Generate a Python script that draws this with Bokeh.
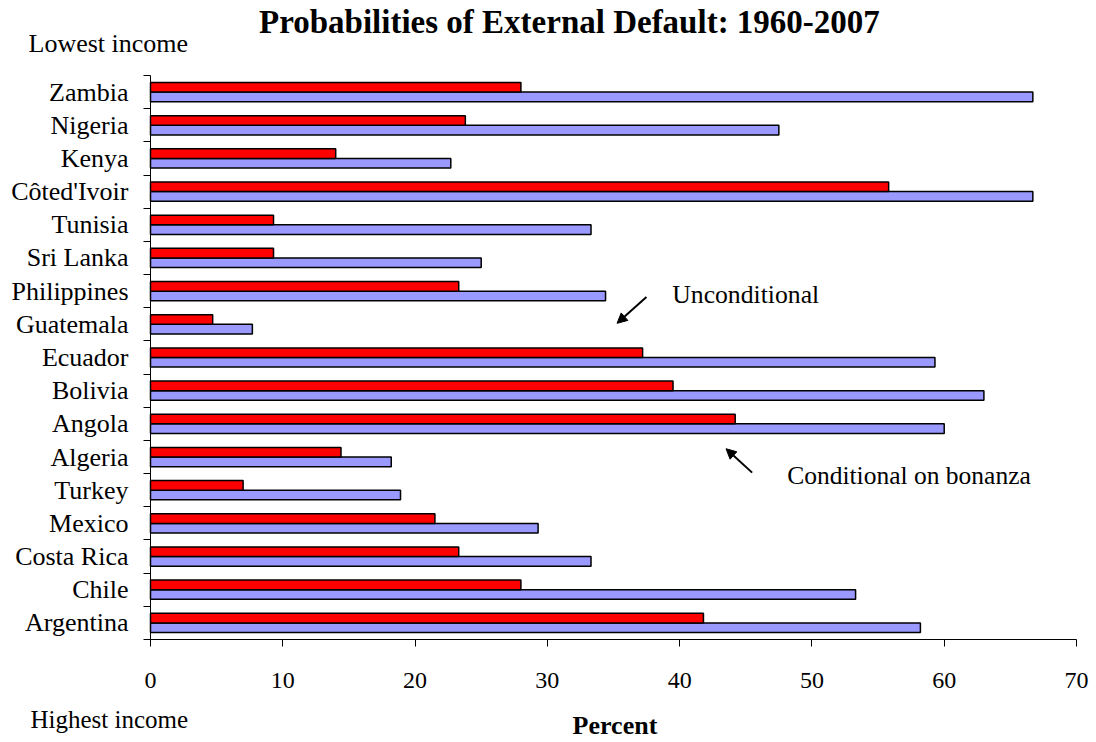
from bokeh.plotting import figure
from bokeh.models import (ColumnDataSource, Range1d, FixedTicker, Label, Arrow, NormalHead)
from bokeh.embed import file_html
from bokeh.resources import INLINE

# ---- data (top to bottom as shown) ----
countries = ["Zambia", "Nigeria", "Kenya", "Côted'Ivoir", "Tunisia", "Sri Lanka",
             "Philippines", "Guatemala", "Ecuador", "Bolivia", "Angola", "Algeria",
             "Turkey", "Mexico", "Costa Rica", "Chile", "Argentina"]
conditional = [28.0, 23.8, 14.0, 55.8, 9.3, 9.3, 23.3, 4.7, 37.2, 39.5, 44.2, 14.4,
               7.0, 21.5, 23.3, 28.0, 41.8]
unconditional = [66.7, 47.5, 22.7, 66.7, 33.3, 25.0, 34.4, 7.7, 59.3, 63.0, 60.0, 18.2,
                 18.9, 29.3, 33.3, 53.3, 58.2]
x_ticks = [0, 10, 20, 30, 40, 50, 60, 70]

FONT = "Liberation Serif"
RED = "#FF0000"
BLUE = "#9999FF"

n = len(countries)
centers = [n - i - 0.5 for i in range(n)]
off = 0.145
bh = 0.29

src = ColumnDataSource(dict(
    country=countries,
    cond=conditional,
    uncond=unconditional,
    y_cond=[c + off for c in centers],
    y_uncond=[c - off for c in centers],
))

# frame covers the whole canvas; axes are pinned at x=0 / y=0
p = figure(width=1096, height=742, output_backend="svg", toolbar_location=None,
           x_range=Range1d(-11.339, 71.512), y_range=Range1d(-3.1046, 19.2607),
           min_border=0)
p.title.visible = False
p.outline_line_color = None
p.background_fill_color = "white"
p.border_fill_color = "white"
p.xgrid.grid_line_color = None
p.ygrid.grid_line_color = None

p.hbar(y="y_uncond", left=0, right="uncond", height=bh, source=src,
       fill_color=BLUE, line_color="black", line_width=1.5)
p.hbar(y="y_cond", left=0, right="cond", height=bh, source=src,
       fill_color=RED, line_color="black", line_width=1.5)

# x axis
xa = p.xaxis[0]
xa.fixed_location = 0
xa.bounds = (0, 70)
xa.ticker = FixedTicker(ticks=x_ticks, minor_ticks=[])
xa.axis_line_color = "black"
xa.axis_line_width = 1
xa.major_tick_in = 0
xa.major_tick_out = 7
xa.major_tick_line_color = "black"
xa.minor_tick_line_color = None
xa.major_label_text_font = FONT
xa.major_label_text_font_size = "24px"
xa.major_label_text_color = "black"
xa.major_label_standoff = 26

# y axis
ya = p.yaxis[0]
ya.fixed_location = 0
ya.bounds = (0, n)
ya.ticker = FixedTicker(ticks=centers, minor_ticks=list(range(0, n + 1)))
ya.major_label_overrides = {c: name for c, name in zip(centers, countries)}
ya.axis_line_color = "black"
ya.major_tick_in = 0
ya.major_tick_out = 0
ya.minor_tick_in = 0
ya.minor_tick_out = 7
ya.minor_tick_line_color = "black"
ya.major_label_text_font = FONT
ya.major_label_text_font_size = "26px"
ya.major_label_text_color = "black"
ya.major_label_standoff = 15

def lab(x, y, text, size, bold=False, align="left"):
    p.add_layout(Label(x=x, y=y, text=text, text_font=FONT, text_font_size=size,
                       text_font_style="bold" if bold else "normal",
                       text_align=align, text_baseline="alphabetic", text_color="black"))

lab(31.67, 18.61, "Probabilities of External Default: 1960-2007", "33px", bold=True, align="center")
lab(-9.22, 17.95, "Lowest income", "26px")
lab(-9.07, -2.40, "Highest income", "25px")
lab(35.11, -2.58, "Percent", "26px", bold=True, align="center")
lab(39.44, 10.40, "Unconditional", "25.7px")
lab(48.13, 4.93, "Conditional on bonanza", "25.5px")

p.add_layout(Arrow(x_start=37.49, y_start=10.32, x_end=35.27, y_end=9.53,
                   line_color="black", line_width=2,
                   end=NormalHead(size=10, fill_color="black", line_color="black")))
p.add_layout(Arrow(x_start=45.48, y_start=5.03, x_end=43.51, y_end=5.75,
                   line_color="black", line_width=2,
                   end=NormalHead(size=10, fill_color="black", line_color="black")))

open("out.html", "w").write(file_html(p, INLINE))
